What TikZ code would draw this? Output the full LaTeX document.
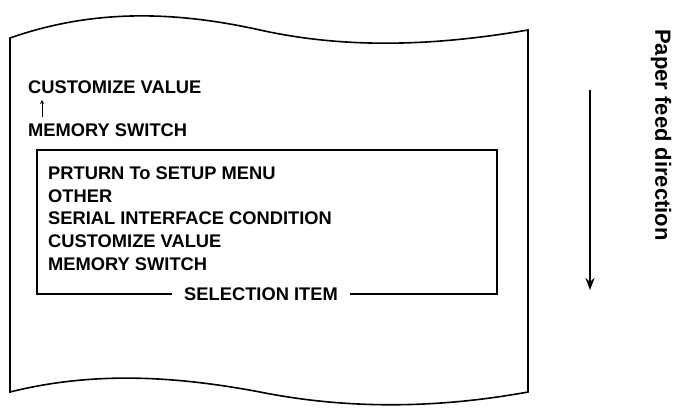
\documentclass[tikz,border=0pt]{standalone}
\usepackage{fontspec}
\setmainfont{Liberation Sans}
\usetikzlibrary{arrows.meta}
\begin{document}
\begin{tikzpicture}[x=1pt,y=-1pt,
  lbl/.style={font=\fontsize{18.3}{20}\selectfont\bfseries,inner sep=0pt,anchor=west},
  edge/.style={line width=1.6pt}]
\useasboundingbox (0,0) rectangle (687,418);
% paper
\draw[edge] (10,38) .. controls (90,10) and (170,10) .. (260,30)
  .. controls (350,50) and (440,45) .. (528,30) -- (528,392)
  .. controls (440,408) and (350,410) .. (260,392)
  .. controls (170,375) and (90,372) .. (10,392) -- cycle;
\node[lbl] (cv) at (28,87) {CUSTOMIZE VALUE};
\node[lbl] (ms) at (28,130) {MEMORY SWITCH};
\coordinate (a1) at (42,117); \coordinate (a2) at (42,100);
\draw[line width=1pt,-{Stealth[length=4pt,width=4pt]}] (a1) -- (a2);
% box
\node[lbl,anchor=center] (sel) at (261,294) {SELECTION ITEM};
\draw[edge] ([xshift=-12pt]sel.west) -- (37,294) -- (37,150) -- (497,150) -- (497,294) -- ([xshift=12pt]sel.east);
\node[lbl] (l1) at (48,173) {PRTURN To SETUP MENU};
\node[lbl] (l2) at (48,196) {OTHER};
\node[lbl] (l3) at (48,218) {SERIAL INTERFACE CONDITION};
\node[lbl] (l4) at (48,241) {CUSTOMIZE VALUE};
\node[lbl] (l5) at (48,264) {MEMORY SWITCH};
% feed arrow
\coordinate (f1) at (590,90); \coordinate (f2) at (590,290);
\draw[line width=2.2pt,-{Stealth[length=12pt,width=9pt]}] (f1) -- (f2);
\node[font=\fontsize{22}{24}\selectfont\bfseries,inner sep=0pt,anchor=center,rotate=-90] (pf) at (661,135) {Paper feed direction};
\end{tikzpicture}
\end{document}
